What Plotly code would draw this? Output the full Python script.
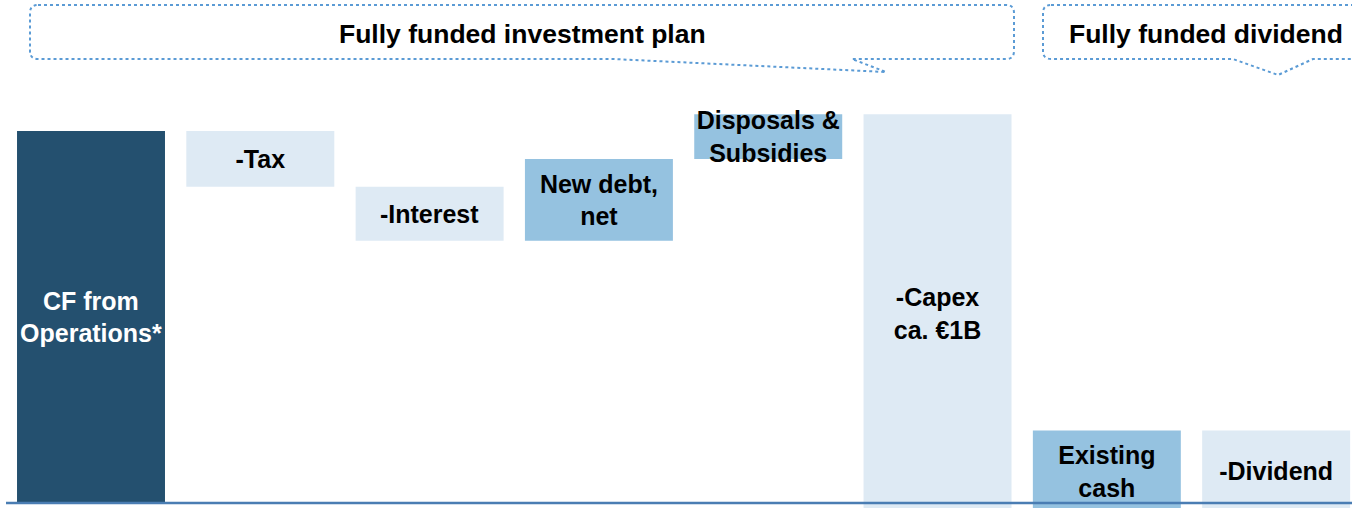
import plotly.graph_objects as go

# waterfall steps (value units, CF from operations = 100)
steps = ["CF from<br>Operations*", "-Tax", "-Interest", "New debt,<br>net",
         "Disposals &<br>Subsidies", "-Capex<br>ca. €1B", "Existing<br>cash", "-Dividend"]
changes = [100, -15, -14.5, 22, 12, -107, 22, -22]
measures = ["absolute", "relative", "relative", "relative",
            "relative", "relative", "relative", "relative"]
label_colors = ["white", "black", "black", "black", "black", "black", "black", "black"]

callout_titles = ["Fully funded investment plan", "Fully funded dividend"]

W, H = 1352, 508
DARK = "#24506f"
MID = "#95c2e0"
LIGHT = "#deeaf4"
DOT = "#5b9bd5"

fig = go.Figure(go.Waterfall(
    x=list(range(len(steps))),
    y=changes,
    measure=measures,
    text=["<b>" + s + "</b>" for s in steps],
    textposition="inside",
    insidetextanchor="middle",
    textangle=0,
    constraintext="none",
    insidetextfont=dict(family="Liberation Sans, Arial", size=25, color=label_colors),
    totals=dict(marker=dict(color=DARK)),
    increasing=dict(marker=dict(color=MID)),
    decreasing=dict(marker=dict(color=LIGHT)),
    connector=dict(visible=False),
    hoverinfo="skip",
))


def px(x, y):
    return f"{x / W:.5f},{1 - y / H:.5f}"


def callout(x0, x1, y0, y1, tail, r=8):
    # rounded box with a pointer on the bottom edge
    ta, tip, tb = tail
    p = f"M {px(x0 + r, y0)} L {px(x1 - r, y0)} Q {px(x1, y0)} {px(x1, y0 + r)}"
    p += f" L {px(x1, y1 - r)} Q {px(x1, y1)} {px(x1 - r, y1)}"
    p += f" L {px(tb, y1)} L {px(*tip)} L {px(ta, y1)}"
    p += f" L {px(x0 + r, y1)} Q {px(x0, y1)} {px(x0, y1 - r)}"
    p += f" L {px(x0, y0 + r)} Q {px(x0, y0)} {px(x0 + r, y0)} Z"
    return dict(type="path", path=p, xref="paper", yref="paper",
                line=dict(color=DOT, width=2, dash="dot"), layer="above")


shapes = [
    callout(30, 1014, 5, 59, (613, (886, 72), 852)),
    callout(1043, 1369, 5, 59, (1233, (1278, 75), 1313)),
    dict(type="line", xref="paper", yref="y", x0=6 / W, x1=1, y0=0, y1=0,
         line=dict(color="#4a7db3", width=2.5), layer="above"),
]

annotations = [
    dict(text="<b>" + callout_titles[0] + "</b>", x=522 / W, y=1 - 34 / H),
    dict(text="<b>" + callout_titles[1] + "</b>", x=1206 / W, y=1 - 34 / H),
]
for a in annotations:
    a.update(xref="paper", yref="paper", showarrow=False, xanchor="center", yanchor="middle",
             font=dict(family="Liberation Sans, Arial", size=26.5, color="black"))

fig.update_layout(
    width=W, height=H,
    margin=dict(l=0, r=0, t=0, b=0),
    paper_bgcolor="white", plot_bgcolor="white",
    showlegend=False,
    waterfallgap=0.126,
    shapes=shapes,
    annotations=annotations,
)
fig.update_xaxes(range=[-0.5375, 7.448], visible=False)
fig.update_yaxes(range=[-5 / 3.72, 503 / 3.72], visible=False)

# drop the page's default body margin so the figure sits at the window's corner
fig.write_html("out.html", config={"displayModeBar": False},
               post_script="document.body.style.margin='0';document.body.style.overflow='hidden';")
